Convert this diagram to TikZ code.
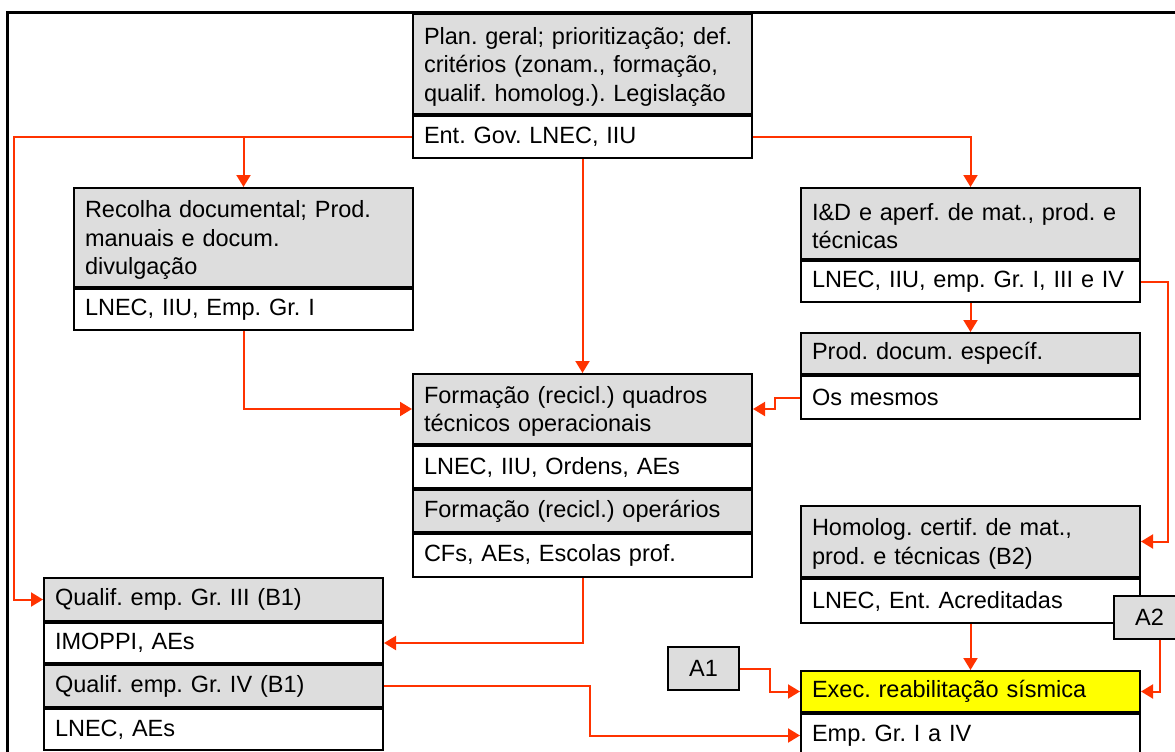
\documentclass[tikz,border=0pt]{standalone}
\usepackage{fontspec}
\setmainfont{Liberation Sans}
\usetikzlibrary{arrows.meta,calc}
\definecolor{boxgray}{HTML}{DDDDDD}
\definecolor{linkred}{HTML}{FF3300}
\definecolor{execyellow}{HTML}{FFFF00}
\frenchspacing
% taller first line, so that multi-line headings sit a little lower
\newcommand{\firstlinepad}{\rule{0pt}{22pt}}
\begin{document}
\begin{tikzpicture}[x=1pt,y=-1pt,
  part/.style={draw=black, line width=2pt, anchor=north west, align=left,
    text width=317pt, inner xsep=11pt, inner ysep=0pt,
    font=\fontsize{23.5}{28.5}\selectfont},
  head/.style={part, fill=boxgray},
  who/.style={part, fill=white},
  tag/.style={draw=black, line width=2pt, fill=boxgray, minimum width=71pt,
    minimum height=43pt, inner sep=0pt, font=\fontsize{23.5}{28.5}\selectfont},
  conn/.style={draw=linkred, line width=2pt, -{Triangle[length=12pt,width=14pt]}}]

\useasboundingbox (0,0) rectangle (1175,752);
\fill[white] (0,0) rectangle (1175,752);

% outer frame (runs off the right and bottom edges)
\draw[line width=3pt] (7,760) -- (7,12.5) -- (1180,12.5);

% planning box
\node[head, minimum height=100pt] (planA) at (412,13)
  {\firstlinepad Plan. geral; prioritização; def.\\critérios (zonam., formação,\\qualif. homolog.). Legislação};
\node[who, minimum height=42pt] (planB) at (planA.south west) {Ent. Gov. LNEC, IIU};

% documentation box
\node[head, minimum height=99pt] (recA) at (73,187)
  {\firstlinepad Recolha documental; Prod.\\manuais e docum.\\divulgação};
\node[who, minimum height=41pt] (recB) at (recA.south west) {LNEC, IIU, Emp. Gr. I};

% R&D box
\node[head, minimum height=71pt] (idA) at (800,187)
  {\firstlinepad I\&D e aperf. de mat., prod. e\\técnicas};
\node[who, minimum height=41pt] (idB) at (idA.south west) {LNEC, IIU, emp. Gr. I, III e IV};

% specific documents box
\node[head, minimum height=41pt] (prodA) at (800,332) {Prod. docum. específ.};
\node[who, minimum height=43pt] (prodB) at (prodA.south west) {Os mesmos};

% training box
\node[head, minimum height=70pt] (formA) at (412,373)
  {\firstlinepad Formação (recicl.) quadros\\técnicos operacionais};
\node[who, minimum height=42pt] (formB) at (formA.south west) {LNEC, IIU, Ordens, AEs};
\node[head, minimum height=42pt] (formC) at (formB.south west) {Formação (recicl.) operários};
\node[who, minimum height=43pt] (formD) at (formC.south west) {CFs, AEs, Escolas prof.};

% certification box
\node[head, minimum height=71pt] (homA) at (800,505)
  {\firstlinepad Homolog. certif. de mat.,\\prod. e técnicas (B2)};
\node[who, minimum height=44pt] (homB) at (homA.south west) {LNEC, Ent. Acreditadas};

% qualification box
\node[head, minimum height=43pt] (qualA) at (43,577) {Qualif. emp. Gr. III (B1)};
\node[who, minimum height=40pt] (qualB) at (qualA.south west) {IMOPPI, AEs};
\node[head, minimum height=42pt] (qualC) at (qualB.south west) {Qualif. emp. Gr. IV (B1)};
\node[who, minimum height=41pt] (qualD) at (qualC.south west) {LNEC, AEs};

% execution box
\node[head, fill=execyellow, minimum height=41pt] (execA) at (800,670)
  {Exec. reabilitação sísmica};
\node[who, minimum height=43pt] (execB) at (execA.south west) {Emp. Gr. I a IV};

% external inputs
\node[tag] (A1) at (703.5,668.5) {A1};
\node[tag] (A2) at (1149.5,617) {A2};

% bus lines
\coordinate (xl) at (14,0);
\coordinate (xr) at (1168,0);
\coordinate (xm) at (775,0);
\coordinate (xq) at (590,0);
\coordinate (xa) at (770,0);

% connectors
\draw[conn] (planB.west) -- (planB.west -| xl) -- (qualA.west -| xl) -- (qualA.west);
\draw[conn] (planB.west -| recA.north) -- (recA.north);
\draw[conn] (planB.east) -| (idA.north);
\draw[conn] (planB.south) -- (formA.north);
\draw[conn] (recB.south) |- (formA.west);
\draw[conn] (idB.south) -- (prodA.north);
\draw[conn] (idB.east) -- (idB.east -| xr) -- (homA.east -| xr) -- (homA.east);
\draw[conn] (prodB.west) -- (prodB.west -| xm) -- (formA.east -| xm) -- (formA.east);
\draw[conn] (formD.south) |- (qualB.east);
\draw[conn] (qualC.east) -- (qualC.east -| xq) -- (execB.west -| xq) -- (execB.west);
\draw[conn] (homB.south) -- (execA.north);
\draw[conn] (A1.east) -- (A1.east -| xa) -- (execA.west -| xa) -- (execA.west);
\draw[conn] ([xshift=10pt]A2.south) |- (execA.east);
\end{tikzpicture}
\end{document}
